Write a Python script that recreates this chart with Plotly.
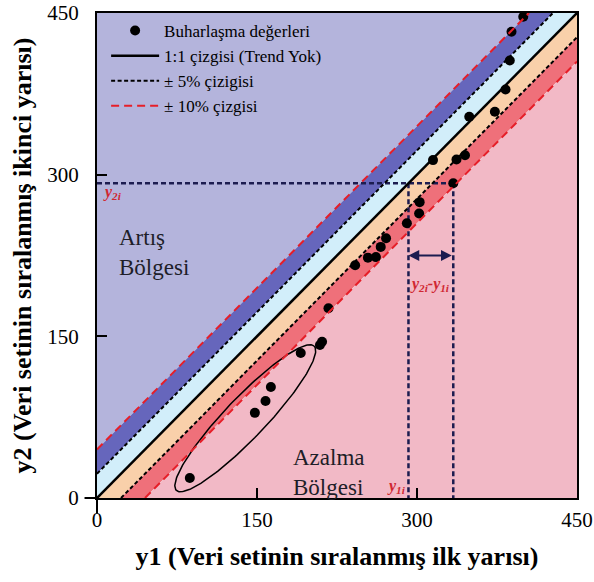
import numpy as np
import plotly.graph_objects as go

# Data
y1_vals = [87, 148, 158, 163, 191, 209, 211, 217, 242, 254, 261.5, 266, 271,
           290.5, 302, 302.5, 315, 334, 337, 345, 349, 373, 383, 387, 388.6, 399.6]
y2_vals = [18.5, 79, 90, 103, 134.5, 142, 145, 176, 216, 223, 223.5, 233, 241,
           255, 264, 274.5, 313.5, 292, 314, 318, 353.7, 358.4, 379, 406, 432.6, 446.5]
axis_max = 450
pct5 = 0.05 * axis_max
pct10 = 0.10 * axis_max
tick_vals = [0, 150, 300, 450]
y1i, y2i = 334, 292   # example point used for the construction lines
arrow_y = 225

FONT = "Liberation Serif, Times New Roman, serif"
C_UP = "rgb(180,180,220)"
C_UP10 = "rgb(102,102,188)"
C_UP5 = "rgb(210,238,250)"
C_DN5 = "rgb(249,208,170)"
C_DN10 = "rgb(239,112,122)"
C_DN = "rgb(242,185,198)"
NAVY = "rgb(28,28,80)"
RED = "rgb(208,40,50)"

M = axis_max
fig = go.Figure()

def band(xs, ys, color):
    fig.add_trace(go.Scatter(x=xs, y=ys, fill="toself", fillcolor=color, mode="lines",
                             line=dict(width=0, color=color), hoverinfo="skip", showlegend=False))

band([0, M - pct10, 0], [pct10, M, M], C_UP)
band([0, M - pct5, M - pct10, 0], [pct5, M, M, pct10], C_UP10)
band([0, M, M - pct5, 0], [0, M, M, pct5], C_UP5)
band([0, pct5, M, M], [0, 0, M - pct5, M], C_DN5)
band([pct5, pct10, M, M], [0, 0, M - pct10, M - pct5], C_DN10)
band([pct10, M, M], [0, 0, M - pct10], C_DN)

# construction lines
fig.add_trace(go.Scatter(x=[0, y1i, None, y2i, y2i, None, y1i, y1i],
                         y=[y2i, y2i, None, y2i, 0, None, y2i, 0],
                         mode="lines", line=dict(color=NAVY, width=2.5, dash="5px,3px"),
                         hoverinfo="skip", showlegend=False))

# ellipse
t = np.linspace(0, 2 * np.pi, 200)
cx, cy, a, b, ang = 139, 74, 93, 19, np.deg2rad(46)
ex = cx + a * np.cos(t) * np.cos(ang) - b * np.sin(t) * np.sin(ang)
ey = cy + a * np.cos(t) * np.sin(ang) + b * np.sin(t) * np.cos(ang)
fig.add_trace(go.Scatter(x=ex, y=ey, mode="lines", line=dict(color="black", width=1.5),
                         hoverinfo="skip", showlegend=False))

fig.add_trace(go.Scatter(x=y1_vals, y=y2_vals, mode="markers",
                         marker=dict(color="black", size=10), name="Buharlaşma değerleri"))
fig.add_trace(go.Scatter(x=[0, M], y=[0, M], mode="lines", line=dict(color="black", width=2.5),
                         name="1:1 çizgisi (Trend Yok)"))
fig.add_trace(go.Scatter(x=[0, M - pct5, None, pct5, M], y=[pct5, M, None, 0, M - pct5],
                         mode="lines", line=dict(color="black", width=2, dash="4px,2.5px"),
                         name="± 5% çizigisi"))
fig.add_trace(go.Scatter(x=[0, M - pct10, None, pct10, M], y=[pct10, M, None, 0, M - pct10],
                         mode="lines", line=dict(color="rgb(230,30,40)", width=2, dash="8px,5px"),
                         name="± 10% çizgisi"))

ann = []
ann.append(dict(x=y2i, y=arrow_y, ax=y1i, ay=arrow_y, xref="x", yref="y", axref="x", ayref="y",
                text="", showarrow=True, arrowhead=2, arrowside="end+start", arrowsize=1.2,
                arrowwidth=1.8, arrowcolor=NAVY))
ann.append(dict(x=19, y=228, xref="x", yref="y", xanchor="left", showarrow=False,
                text="Artış<br>Bölgesi", align="left",
                font=dict(family=FONT, size=23, color="rgb(30,30,40)")))
ann.append(dict(x=182, y=24, xref="x", yref="y", xanchor="left", showarrow=False,
                text="Azalma<br>Bölgesi", align="left",
                font=dict(family=FONT, size=23, color="rgb(30,30,40)")))
ann.append(dict(x=4, y=283, xref="x", yref="y", xanchor="left", showarrow=False,
                text="<b><i>y</i></b><sub><b><i>2i</i></b></sub>",
                font=dict(family=FONT, size=16, color=RED)))
ann.append(dict(x=292, y=11, xref="x", yref="y", xanchor="right", showarrow=False,
                text="<b><i>y</i></b><sub><b><i>1i</i></b></sub>",
                font=dict(family=FONT, size=16, color=RED)))
ann.append(dict(x=312, y=198, xref="x", yref="y", showarrow=False,
                text="<b><i>y</i></b><sub><b><i>2i</i></b></sub><b><i>-y</i></b><sub><b><i>1i</i></b></sub>",
                font=dict(family=FONT, size=16, color=RED)))

shapes = [
    dict(type="line", xref="paper", yref="paper", x0=0, x1=0, y0=0, y1=-0.032,
         line=dict(color="black", width=2)),
    dict(type="line", xref="paper", yref="paper", x0=0, x1=-0.026, y0=0, y1=0,
         line=dict(color="black", width=2)),
]

axis_common = dict(range=[0, M], tickvals=tick_vals, ticks="inside", ticklen=10, tickwidth=2,
                   tickcolor="black", showline=True, linecolor="black", linewidth=2, mirror=True,
                   showgrid=False, zeroline=False, automargin=False,
                   tickfont=dict(family=FONT, size=21, color="black"))

fig.update_layout(
    width=594, height=582,
    margin=dict(l=97, r=17, t=13, b=84),
    paper_bgcolor="white", plot_bgcolor="white",
    xaxis=dict(**axis_common, ticklabelstandoff=2,
               title=dict(text="<b>y1 (Veri setinin sıralanmış ilk yarısı)</b>", standoff=16,
                          font=dict(family=FONT, size=26, color="black"))),
    yaxis=dict(**axis_common, ticklabelstandoff=12,
               title=dict(text="<b>y2 (Veri setinin sıralanmış ikinci yarısı)</b>", standoff=8,
                          font=dict(family=FONT, size=26, color="black"))),
    legend=dict(x=0.019, y=1.0, xanchor="left", yanchor="top", bgcolor="rgba(0,0,0,0)",
                font=dict(family=FONT, size=17, color="black"), itemwidth=48, tracegroupgap=0),
    annotations=ann, shapes=shapes, showlegend=True,
)

fig.write_html("out.html", config={"displayModeBar": False},
               post_script="document.body.style.margin='0px';")
